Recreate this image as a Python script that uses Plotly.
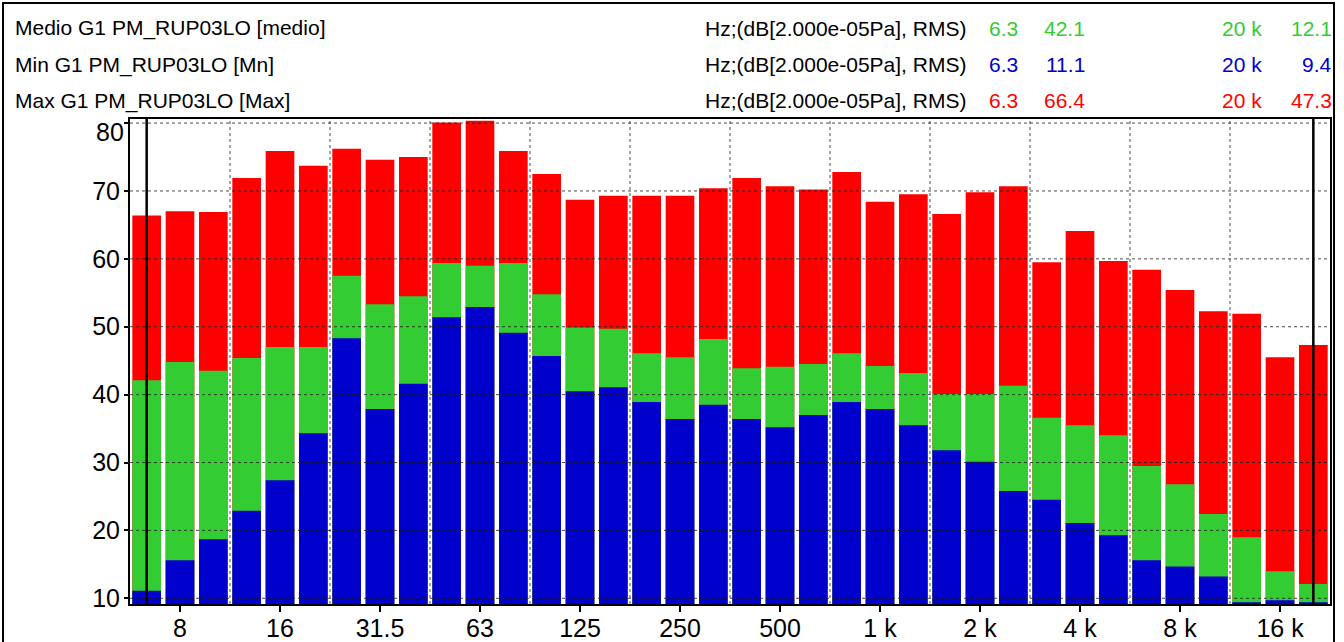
import plotly.graph_objects as go

# Third-octave bands (Hz)
bands = ["6.3", "8", "10", "12.5", "16", "20", "25", "31.5", "40", "50", "63", "80",
         "100", "125", "160", "200", "250", "315", "400", "500", "630", "800", "1 k",
         "1.25 k", "1.6 k", "2 k", "2.5 k", "3.15 k", "4 k", "5 k", "6.3 k", "8 k",
         "10 k", "12.5 k", "16 k", "20 k"]

max_vals = [66.4, 67.0, 66.9, 71.9, 75.9, 73.7, 76.2, 74.6, 75.0, 80.1, 80.35, 75.9,
            72.5, 68.7, 69.3, 69.3, 69.3, 70.4, 71.9, 70.7, 70.2, 72.8, 68.4,
            69.5, 66.6, 69.8, 70.7, 59.5, 64.1, 59.7, 58.4, 55.4,
            52.3, 51.9, 45.5, 47.3]

medio_vals = [42.1, 44.8, 43.5, 45.4, 47.0, 47.0, 57.5, 53.3, 54.5, 59.4, 59.0, 59.4,
              54.8, 49.9, 49.7, 46.1, 45.5, 48.2, 43.9, 44.1, 44.5, 46.1, 44.2,
              43.2, 40.1, 40.1, 41.3, 36.6, 35.5, 34.0, 29.5, 26.8,
              22.4, 19.0, 14.0, 12.1]

min_vals = [11.1, 15.6, 18.7, 22.9, 27.4, 34.3, 48.3, 37.9, 41.6, 51.4, 52.9, 49.1,
            45.7, 40.5, 41.1, 38.9, 36.4, 38.5, 36.4, 35.2, 37.0, 38.9, 37.9,
            35.5, 31.8, 30.1, 25.8, 24.5, 21.1, 19.3, 15.6, 14.7,
            13.2, 9.4, 9.7, 9.4]

tick_labels = ["8", "16", "31.5", "63", "125", "250", "500", "1 k", "2 k", "4 k", "8 k", "16 k"]
y_ticks = [10, 20, 30, 40, 50, 60, 70, 80]

series_names = ["Medio G1 PM_RUP03LO [medio]", "Min G1 PM_RUP03LO [Mn]", "Max G1 PM_RUP03LO [Max]"]
unit_text = "Hz;(dB[2.000e-05Pa], RMS)"
cursor_bands = ["6.3", "20 k"]

RED = "#FF0000"
GREEN = "#33CC33"
BLUE = "#0000CC"
FONT = "Liberation Sans, Arial, sans-serif"

W, H = 1344, 642
ML, MR, MT, MB = 130, 14, 119, 38
PW, PH = W - ML - MR, H - MT - MB


def px_x(x):
    return (x - ML) / PW


def px_y(y):
    return (H - MB - y) / PH


fig = go.Figure()
for vals, col, name in [(max_vals, RED, "Max"), (medio_vals, GREEN, "Medio"), (min_vals, BLUE, "Min")]:
    fig.add_trace(go.Bar(x=bands, y=vals, name=name, marker=dict(color=col, line=dict(width=0)),
                         width=0.86, hoverinfo="x+y"))

shapes = []
grid_line = dict(color="rgba(30,30,30,0.8)", width=1, dash="dot")
# horizontal grid (drawn above bars as in the reference)
for v in y_ticks:
    shapes.append(dict(type="line", xref="paper", yref="y", x0=0, x1=1, y0=v, y1=v,
                       line=grid_line, layer="above"))
# vertical grid at band boundaries following each labelled band
for t in tick_labels:
    xb = bands.index(t) + 1.5
    if xb < len(bands) - 0.5:
        shapes.append(dict(type="line", xref="x", yref="paper", x0=xb, x1=xb, y0=0, y1=1,
                           line=grid_line, layer="above"))
# cursor lines
for c in cursor_bands:
    xi = bands.index(c)
    shapes.append(dict(type="line", xref="x", yref="paper", x0=xi, x1=xi, y0=0, y1=1,
                       line=dict(color="black", width=2.5), layer="above"))
# outer frame
shapes.append(dict(type="rect", xref="paper", yref="paper", x0=px_x(3), x1=px_x(1334),
                   y0=px_y(660), y1=px_y(3), line=dict(color="black", width=2), layer="above"))

annotations = []
row_y = [28, 65, 101]
row_cols = [GREEN, BLUE, RED]
row_data = [medio_vals, min_vals, max_vals]
HF = 21
for name, yy, col, vals in zip(series_names, row_y, row_cols, row_data):
    annotations.append(dict(text=name, xref="paper", yref="paper", x=px_x(13), y=px_y(yy),
                            xanchor="left", yanchor="middle", showarrow=False,
                            font=dict(family=FONT, size=HF, color="black")))
    annotations.append(dict(text=unit_text, xref="paper", yref="paper", x=px_x(703), y=px_y(yy),
                            xanchor="left", yanchor="middle", showarrow=False,
                            font=dict(family=FONT, size=HF, color="black")))
    cols = [(cursor_bands[0], 1020), (f"{vals[bands.index(cursor_bands[0])]:.1f}", 1087),
            (cursor_bands[1], 1264), (f"{vals[bands.index(cursor_bands[1])]:.1f}", 1334)]
    for txt, xr in cols:
        annotations.append(dict(text=txt, xref="paper", yref="paper", x=px_x(xr), y=px_y(yy),
                                xanchor="right", yanchor="middle", showarrow=False,
                                font=dict(family=FONT, size=HF, color=col)))

# top y label is drawn just inside the frame, as in the reference
top_tick = y_ticks[-1]
annotations.append(dict(text=str(top_tick), xref="paper", yref="y", x=px_x(126), y=top_tick,
                        xanchor="right", yanchor="top", yshift=7, showarrow=False,
                        font=dict(family=FONT, size=25, color="black")))
y_ticktext = [str(v) for v in y_ticks[:-1]] + [""]

fig.update_layout(
    width=W, height=H,
    margin=dict(l=ML, r=MR, t=MT, b=MB, pad=0, autoexpand=False),
    barmode="overlay",
    plot_bgcolor="white", paper_bgcolor="white",
    showlegend=False,
    font=dict(family=FONT, size=25, color="black"),
    shapes=shapes,
    annotations=annotations,
    xaxis=dict(type="category", categoryorder="array", categoryarray=bands,
               range=[-0.5, len(bands) - 0.5], automargin=False,
               tickmode="array", tickvals=tick_labels, ticktext=tick_labels,
               ticks="outside", ticklen=6, tickwidth=2, tickcolor="black",
               ticklabelstandoff=-5,
               showgrid=False, zeroline=False,
               showline=True, mirror=True, linecolor="black", linewidth=2,
               tickfont=dict(family=FONT, size=25, color="black"), layer="above traces"),
    yaxis=dict(range=[9.16, 80.6], tickmode="array", tickvals=y_ticks, ticktext=y_ticktext,
               automargin=False,
               ticks="outside", ticklen=4, tickwidth=2, tickcolor="black",
               ticklabelstandoff=-1,
               showgrid=False, zeroline=False,
               showline=True, mirror=True, linecolor="black", linewidth=2,
               tickfont=dict(family=FONT, size=25, color="black"), layer="above traces"),
)

fig.write_html("out.html", config={"displayModeBar": False},
               post_script="document.body.style.margin='0';document.body.style.overflow='hidden';")
